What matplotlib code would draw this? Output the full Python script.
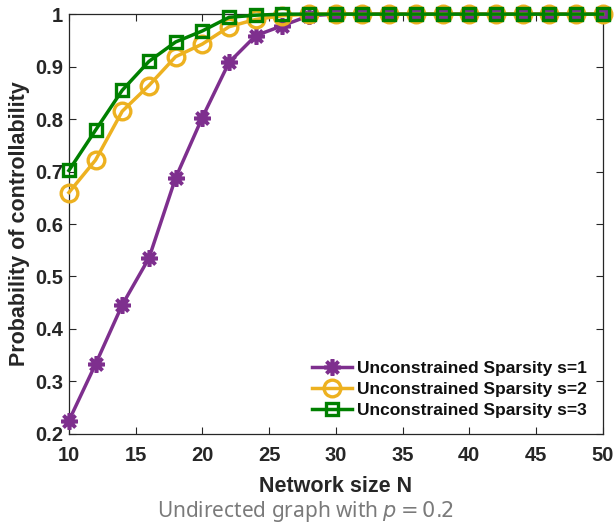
import numpy as np
import matplotlib.pyplot as plt

# network sizes N
network_size = [10, 12, 14, 16, 18, 20, 22, 24, 26, 28, 30, 32, 34, 36, 38, 40, 42, 44, 46, 48, 50]

# probability of controllability
prob_s1 = [0.225, 0.333, 0.446, 0.535, 0.688, 0.803, 0.908, 0.959, 0.978, 0.997, 1, 1, 1, 1, 1, 1, 1, 1, 1, 1, 1]
prob_s2 = [0.660, 0.722, 0.815, 0.864, 0.919, 0.943, 0.976, 0.990, 0.997, 1, 1, 1, 1, 1, 1, 1, 1, 1, 1, 1, 1]
prob_s3 = [0.702, 0.779, 0.855, 0.910, 0.947, 0.968, 0.994, 0.998, 1, 1, 1, 1, 1, 1, 1, 1, 1, 1, 1, 1, 1]

labels = ['Unconstrained Sparsity s=1', 'Unconstrained Sparsity s=2', 'Unconstrained Sparsity s=3']

plt.rcParams['font.family'] = ['Liberation Sans', 'DejaVu Sans']
plt.rcParams['mathtext.fontset'] = 'dejavusans'

fig = plt.figure(figsize=(6.15, 5.24), dpi=100)
ax = fig.add_axes([0.112, 0.172, 0.868, 0.801])

ax.plot(network_size, prob_s1, color='#7E2F8E', lw=2.5, marker=(8, 2, 0), ms=12, mew=2.6,
        label=labels[0], clip_on=False, zorder=3)
ax.plot(network_size, prob_s2, color='#EDB120', lw=2.5, marker='o', ms=12, mfc='none', mew=2.4,
        label=labels[1], clip_on=False, zorder=4)
ax.plot(network_size, prob_s3, color='#008000', lw=2.5, marker='s', ms=8.5, mfc='none', mew=2.4,
        label=labels[2], clip_on=False, zorder=5)

ax.set_xlim(10, 50)
ax.set_ylim(0.2, 1)
ax.set_xticks(np.arange(10, 51, 5))
ax.set_yticks(np.arange(0.2, 1.01, 0.1))
ax.set_yticklabels(['0.2', '0.3', '0.4', '0.5', '0.6', '0.7', '0.8', '0.9', '1'])
ax.tick_params(direction='in', top=True, right=True, labelsize=14.5, length=5, width=0.8, colors='#262626')
ax.tick_params(axis='x', pad=9)
ax.tick_params(axis='y', pad=4)
for lbl in ax.get_xticklabels() + ax.get_yticklabels():
    lbl.set_fontweight('bold')
for sp in ax.spines.values():
    sp.set_color('#262626')
    sp.set_linewidth(0.9)

ax.set_xlabel('Network size N', fontsize=15.5, fontweight='bold', color='#262626', labelpad=8)
ax.set_ylabel('Probability of controllability', fontsize=15.5, fontweight='bold', color='#262626', labelpad=4)

leg = ax.legend(loc='lower right', frameon=False, fontsize=12.5, handlelength=2.3,
                handletextpad=0.3, labelspacing=0.35, borderaxespad=0.5)
for t in leg.get_texts():
    t.set_fontweight('bold')
    t.set_color('#101010')

fig.text(0.497, 0.023, r'Undirected graph with $p = 0.2$', ha='center', va='center',
         fontsize=15, color='#7a7a7a', family=['Noto Sans', 'DejaVu Sans'])

fig.savefig('out.png', dpi=100)
